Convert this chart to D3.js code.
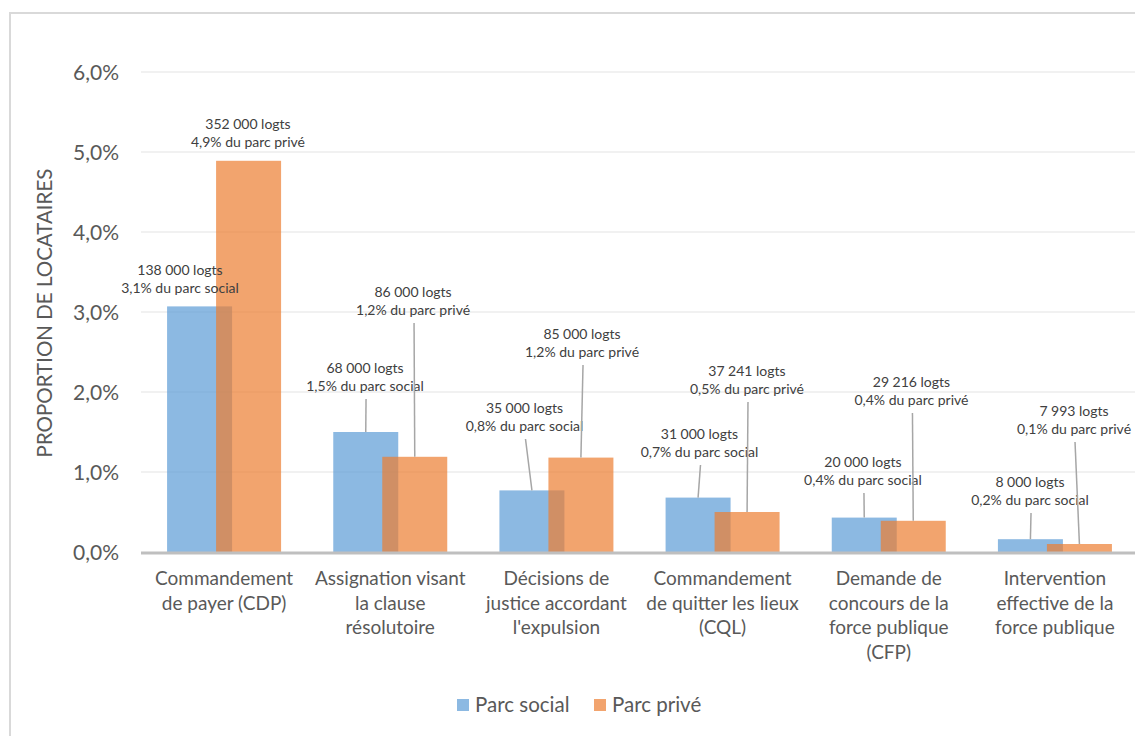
<!DOCTYPE html>
<html lang="fr">
<head>
<meta charset="utf-8">
<script src="https://cdn.jsdelivr.net/npm/d3@7"></script>
<style>
  html, body { margin: 0; padding: 0; background: #fff; }
  svg { display: block; font-family: Lato, "Open Sans", sans-serif; }
</style>
</head>
<body>
<svg id="chart" width="1135" height="736"></svg>
<script>
// Étapes de la procédure d'expulsion locative
const categories = [
  ["Commandement", "de payer (CDP)"],
  ["Assignation visant", "la clause", "résolutoire"],
  ["Décisions de", "justice accordant", "l'expulsion"],
  ["Commandement", "de quitter les lieux", "(CQL)"],
  ["Demande de", "concours de la", "force publique", "(CFP)"],
  ["Intervention", "effective de la", "force publique"]
];

// Part des locataires concernés (en %)
const socialPct = [3.07, 1.5, 0.77, 0.68, 0.43, 0.16];
const privePct  = [4.89, 1.19, 1.18, 0.5, 0.39, 0.1];

// Nombre de logements concernés
const socialLogts = [138000, 68000, 35000, 31000, 20000, 8000];
const priveLogts  = [352000, 86000, 85000, 37241, 29216, 7993];

const seriesNames = ["Parc social", "Parc privé"];
const parcLabels  = ["du parc social", "du parc privé"];
const yTicks = [0, 1, 2, 3, 4, 5, 6];
const yTitle = "PROPORTION DE LOCATAIRES";

// Placement des étiquettes : décalage (px) par rapport au sommet de la barre
const labelOffsets = [
  [[-19.6, -36.4], [-0.7, -64], [-7.4, -82.4], [1.4, -63.6], [-1.3, -55.6], [-0.4, -57.2]],
  [[-0.6, -36.8], [-1.7, -164.8], [1.1, -123.6], [-0.1, -141], [-1.8, -138.8], [-5.4, -133]]
];

const colors = ["#5B9BD5", "#ED7D31"];
const textColor = "#595959";

const svg = d3.select("#chart");

// Cadre du graphique
svg.append("rect")
  .attr("x", 10).attr("y", 13)
  .attr("width", 1140).attr("height", 740)
  .attr("fill", "#fff")
  .attr("stroke", "#d9d9d9").attr("stroke-width", 2);

const x = d3.scaleBand()
  .domain(d3.range(categories.length))
  .range([141, 1138])
  .padding(0);

const y = d3.scaleLinear().domain([0, 6]).range([552, 72]);

const barW = 65, overlap = 16;
const barX = (i, s) => {
  const c = x(i) + x.bandwidth() / 2;
  const half = barW - overlap / 2;
  return s === 0 ? c - half : c - overlap / 2;
};

// Quadrillage horizontal
svg.append("g")
  .selectAll("line")
  .data(yTicks.filter(t => t > 0))
  .join("line")
  .attr("x1", 141).attr("x2", 1135)
  .attr("y1", d => y(d)).attr("y2", d => y(d))
  .attr("stroke", "#ececec").attr("stroke-width", 1.5);

// Axe des ordonnées
const fmtTick = d => d3.format(".1f")(d).replace(".", ",") + "%";
const yAxis = svg.append("g")
  .attr("transform", "translate(130,0)")
  .call(d3.axisLeft(y).tickValues(yTicks).tickFormat(fmtTick).tickSize(0).tickPadding(0));
yAxis.select(".domain").remove();
yAxis.selectAll("text")
  .attr("x", -11)
  .attr("dy", "0.35em")
  .attr("fill", textColor)
  .style("font-size", "21px")
  .style("font-family", "Lato, sans-serif");

svg.append("text")
  .attr("transform", "translate(52,313) rotate(-90)")
  .attr("text-anchor", "middle")
  .attr("fill", textColor)
  .style("font-size", "20.5px")
  .text(yTitle);

// Barres
const series = [socialPct, privePct];
series.forEach((vals, s) => {
  svg.append("g")
    .selectAll("rect")
    .data(vals)
    .join("rect")
    .attr("x", (d, i) => barX(i, s))
    .attr("y", d => y(d))
    .attr("width", barW)
    .attr("height", d => y(0) - y(d))
    .attr("fill", colors[s])
    .attr("fill-opacity", 0.7);
});

// Ligne de base
svg.append("line")
  .attr("x1", 141).attr("x2", 1135)
  .attr("y1", y(0) + 1).attr("y2", y(0) + 1)
  .attr("stroke", "#bfbfbf").attr("stroke-width", 3);

// Étiquettes de données avec traits de rappel
const fmtNum = d => d3.format(",")(d).replace(/,/g, "\u202f");
const fmtPct = d => d3.format(".1f")(d).replace(".", ",") + "%";
const counts = [socialLogts, priveLogts];
series.forEach((vals, s) => {
  const g = svg.append("g");
  vals.forEach((v, i) => {
    const bx = barX(i, s) + barW / 2;
    const top = y(v);
    const [dx, dy] = labelOffsets[s][i];
    const lx = bx + dx, ly = top + dy;
    if (dy < -45) {
      g.append("line")
        .attr("x1", lx + 1).attr("y1", ly + 31)
        .attr("x2", bx).attr("y2", top)
        .attr("stroke", "#a6a6a6").attr("stroke-width", 1.5);
    }
    const t = g.append("text")
      .attr("text-anchor", "middle")
      .attr("fill", "#404040")
      .style("font-size", "14px");
    t.append("tspan").attr("x", lx).attr("y", ly).attr("dy", "0.35em")
      .text(fmtNum(counts[s][i]) + " logts");
    t.append("tspan").attr("x", lx).attr("y", ly + 18).attr("dy", "0.35em")
      .text(fmtPct(v) + " " + parcLabels[s]);
  });
});

// Libellés des catégories
svg.append("g")
  .selectAll("text")
  .data(categories)
  .join("text")
  .attr("text-anchor", "middle")
  .attr("fill", textColor)
  .style("font-size", "19px")
  .each(function (lines, i) {
    const cx = x(i) + x.bandwidth() / 2;
    d3.select(this).selectAll("tspan")
      .data(lines)
      .join("tspan")
      .attr("x", cx)
      .attr("y", (d, k) => 585 + k * 24.5)
      .text(d => d);
  });

// Légende
const legend = svg.append("g");
const legendX = [457, 594];
seriesNames.forEach((name, s) => {
  legend.append("rect")
    .attr("x", legendX[s]).attr("y", 699)
    .attr("width", 12).attr("height", 12)
    .attr("fill", colors[s]).attr("fill-opacity", 0.7);
  legend.append("text")
    .attr("x", legendX[s] + 18).attr("y", 712)
    .attr("fill", textColor)
    .style("font-size", "20.5px")
    .text(name);
});
</script>
</body>
</html>
